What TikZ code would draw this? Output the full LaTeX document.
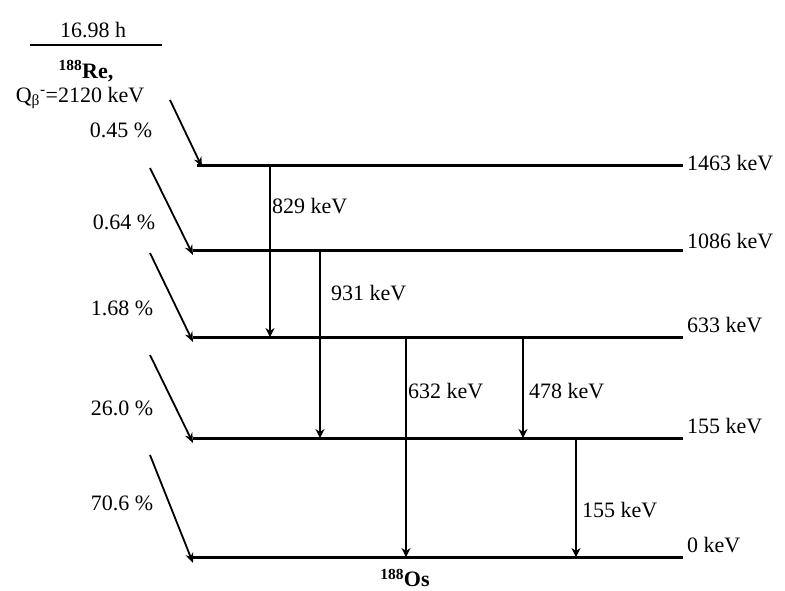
\documentclass[tikz,border=0pt]{standalone}
\usepackage{fontspec}
\setmainfont{Liberation Serif}
\usetikzlibrary{arrows.meta}
\begin{document}
\begin{tikzpicture}[
        x=1pt, y=-1pt,
        every node/.style={font=\fontsize{22}{26}\selectfont, inner sep=1pt},
        level/.style={line width=3pt},
        gamma/.style={line width=1.8pt, -{Stealth[length=9pt,width=9pt]}},
        beta/.style={line width=1.8pt, -{Stealth[length=10pt,width=8pt]}}
    ]
    \useasboundingbox (0,0) rectangle (785,590);
    % parent
    \node (half) at (93,30) {16.98 h};
    \coordinate (hl) at (30,45);
    \coordinate (hr) at (162,45);
    \draw[line width=2pt] (hl) -- (hr);
    \node (re) at (86,71) {\textbf{\textsuperscript{188}Re,}};
    \node (q) at (80,98) {Q\textsubscript{β}\textsuperscript{-}=2120 keV};
    % levels
    \coordinate (L1463a) at (197,165); \coordinate (L1463b) at (683,165);
    \coordinate (L1086a) at (193,250); \coordinate (L1086b) at (683,250);
    \coordinate (L633a) at (193,337);  \coordinate (L633b) at (683,337);
    \coordinate (L155a) at (193,438);  \coordinate (L155b) at (683,438);
    \coordinate (L0a) at (193,557);    \coordinate (L0b) at (683,557);
    \foreach \e in {1463,1086,633,155,0}
        \draw[level] (L\e a) -- (L\e b);
    \node[anchor=west] (e1463) at (686,163) {1463 keV};
    \node[anchor=west] (e1086) at (686,241) {1086 keV};
    \node[anchor=west] (e633) at (686,325) {633 keV};
    \node[anchor=west] (e155) at (686,426) {155 keV};
    \node[anchor=west] (e0) at (686,545) {0 keV};
    \node (os) at (405,578) {\textbf{\textsuperscript{188}Os}};
    % beta feeding
    \coordinate (b1463) at (170,100);
    \coordinate (b1086) at (150,168);
    \coordinate (b633) at (150,253);
    \coordinate (b155) at (150,355);
    \coordinate (b0) at (150,455);
    \draw[beta] (b1463) -- ([xshift=5pt,yshift=-2pt]L1463a);
    \draw[beta] (b1086) -- ([yshift=-5pt]L1086a);
    \draw[beta] (b633) -- ([yshift=-5pt]L633a);
    \draw[beta] (b155) -- ([yshift=-5pt]L155a);
    \draw[beta] (b0) -- ([yshift=-6pt]L0a);
    \node (p1463) at (121,130) {0.45 \%};
    \node (p1086) at (124,222) {0.64 \%};
    \node (p633) at (122,308) {1.68 \%};
    \node (p155) at (122,408) {26.0 \%};
    \node (p0) at (122,503) {70.6 \%};
    % gamma transitions
    \coordinate (g829) at (270,0);
    \coordinate (g931) at (320,0);
    \coordinate (g632) at (406,0);
    \coordinate (g478) at (523,0);
    \coordinate (g155) at (576,0);
    \draw[gamma] (g829 |- L1463a) -- (g829 |- L633a);
    \draw[gamma] (g931 |- L1086a) -- (g931 |- L155a);
    \draw[gamma] (g632 |- L633a) -- (g632 |- L0a);
    \draw[gamma] (g478 |- L633a) -- (g478 |- L155a);
    \draw[gamma] (g155 |- L155a) -- (g155 |- L0a);
    \node[anchor=west] (t829) at (271,206) {829 keV};
    \node[anchor=west] (t931) at (330,293) {931 keV};
    \node[anchor=west] (t632) at (407,391) {632 keV};
    \node[anchor=west] (t478) at (528,391) {478 keV};
    \node[anchor=west] (t155) at (581,510) {155 keV};
\end{tikzpicture}
\end{document}
